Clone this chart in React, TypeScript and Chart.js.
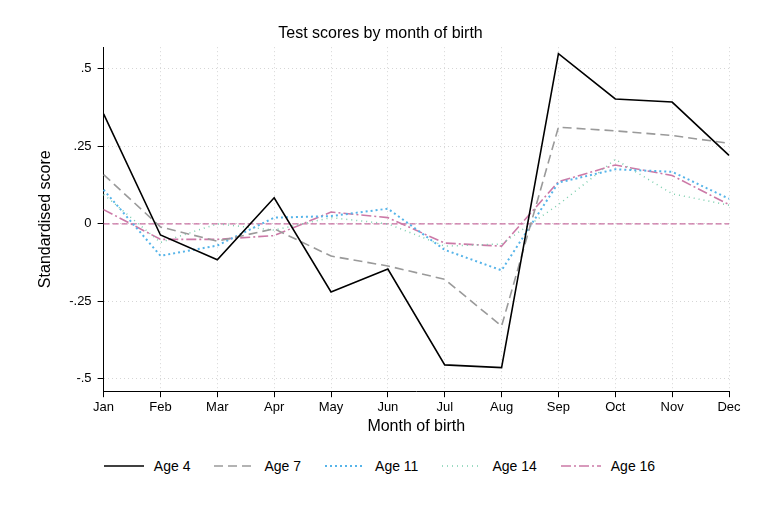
import { useEffect, useRef } from 'react'
import { Chart, registerables } from 'chart.js'

Chart.register(...registerables)

const months = ['Jan', 'Feb', 'Mar', 'Apr', 'May', 'Jun', 'Jul', 'Aug', 'Sep', 'Oct', 'Nov', 'Dec']
const age4 = [0.355, -0.036, -0.116, 0.084, -0.22, -0.146, -0.455, -0.464, 0.549, 0.403, 0.393, 0.221]
const age7 = [0.159, -0.01, -0.056, -0.016, -0.104, -0.136, -0.179, -0.33, 0.312, 0.3, 0.285, 0.26]
const age11 = [0.11, -0.103, -0.07, 0.02, 0.025, 0.049, -0.084, -0.15, 0.133, 0.176, 0.168, 0.081]
const age14 = [0.095, -0.06, 0.0, -0.02, 0.02, 0.0, -0.072, -0.065, 0.062, 0.208, 0.097, 0.06]
const age16 = [0.046, -0.05, -0.05, -0.038, 0.038, 0.02, -0.062, -0.072, 0.136, 0.19, 0.156, 0.062]
const zeroLine = months.map(() => 0)
const yTicks = [-0.5, -0.25, 0, 0.25, 0.5]
const yTickLabels: Record<string, string> = { '-0.5': '-.5', '-0.25': '-.25', '0': '0', '0.25': '.25', '0.5': '.5' }

const series = [
  { label: 'Age 4', data: age4, color: '#000000', dash: [] as number[], width: 1.6 },
  { label: 'Age 7', data: age7, color: '#9a9a9a', dash: [9, 5], width: 1.6 },
  { label: 'Age 11', data: age11, color: '#56b4e9', dash: [2, 3], width: 2 },
  { label: 'Age 14', data: age14, color: '#7ccfae', dash: [1, 4], width: 1.5 },
  { label: 'Age 16', data: age16, color: '#cc79a7', dash: [10, 3, 2, 3], width: 1.6 },
]

const font = 'Arial, "Liberation Sans", sans-serif'

export default function App() {
  const canvas = useRef<HTMLCanvasElement>(null)

  useEffect(() => {
    if (!canvas.current) return
    const chart = new Chart(canvas.current, {
      type: 'line',
      data: {
        labels: months,
        datasets: [
          ...series.map((s) => ({
            label: s.label,
            data: s.data,
            borderColor: s.color,
            borderDash: s.dash,
            borderWidth: s.width,
            pointRadius: 0,
            tension: 0,
            order: 1,
          })),
          {
            label: 'zero',
            data: zeroLine,
            borderColor: '#c76fa0',
            backgroundColor: '#c76fa0',
            borderDash: [6, 3],
            borderWidth: 1.2,
            pointRadius: 0,
            order: 2,
          },
        ],
      },
      options: {
        animation: false,
        responsive: false,
        layout: { padding: { left: 32, right: 30, top: 14, bottom: 0 } },
        plugins: {
          legend: { display: false },
          tooltip: { enabled: false },
          title: {
            display: true,
            text: 'Test scores by month of birth',
            color: '#000',
            font: { family: font, size: 16, weight: 'normal' },
            padding: { top: 10, bottom: 4 },
          },
        },
        scales: {
          x: {
            grid: { color: '#d6d6d6', tickColor: '#000', tickLength: 6, drawOnChartArea: true },
            border: { display: true, color: '#000', dash: [1, 3] },
            ticks: { color: '#000', font: { family: font, size: 13 }, padding: 2, maxRotation: 0 },
            title: {
              display: true,
              text: 'Month of birth',
              color: '#000',
              font: { family: font, size: 16 },
              padding: { top: 0 },
            },
          },
          y: {
            min: -0.54,
            max: 0.57,
            afterBuildTicks: (axis) => {
              axis.ticks = yTicks.map((v) => ({ value: v }))
            },
            grid: { color: '#d6d6d6', tickColor: '#000', tickLength: 6 },
            border: { display: true, color: '#000', dash: [1, 3] },
            ticks: {
              color: '#000',
              font: { family: font, size: 13 },
              padding: 6,
              callback: (v) => yTickLabels[String(v)] ?? '',
            },
            title: {
              display: true,
              text: 'Standardised score',
              color: '#000',
              font: { family: font, size: 16 },
              padding: { bottom: 8 },
            },
          },
        },
      },
    })
    return () => chart.destroy()
  }, [])

  return (
    <div style={{ position: 'absolute', left: 0, top: 0, width: 759, height: 506, background: '#fff', fontFamily: font }}>
      <canvas ref={canvas} width={759} height={440} style={{ display: 'block' }} />
      <div style={{ display: 'flex', justifyContent: 'center', gap: 24, marginTop: 18, fontSize: 14, color: '#000' }}>
        {series.map((s) => (
          <div key={s.label} style={{ display: 'flex', alignItems: 'center', gap: 10 }}>
            <svg width={40} height={8}>
              <line x1={0} y1={4} x2={40} y2={4} stroke={s.color} strokeWidth={s.width} strokeDasharray={s.dash.join(' ')} />
            </svg>
            <span>{s.label}</span>
          </div>
        ))}
      </div>
    </div>
  )
}
